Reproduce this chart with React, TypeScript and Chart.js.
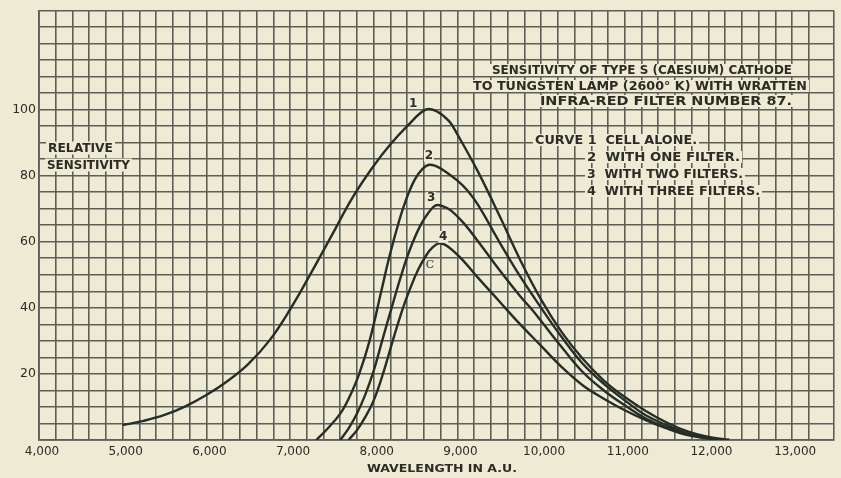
import { useEffect, useRef } from 'react';
import { Chart, registerables } from 'chart.js';

Chart.register(...registerables);

// ---------- data ----------
const curve1X = [5000, 5250, 5500, 5750, 6000, 6250, 6500, 6750, 7000, 7250, 7500, 7750, 8000, 8200, 8400, 8620, 8750, 8900, 9000, 9250, 9500, 9750, 10000, 10250, 10500, 10750, 11000, 11250, 11500, 11750, 12000, 12250];
const curve1Y = [4.5, 5.8, 7.6, 10.2, 13.6, 17.8, 23, 30, 39.5, 50.5, 62, 73.5, 83, 89.5, 95, 100, 99.5, 96.5, 92.5, 81, 68, 54.5, 42.5, 32.5, 24.5, 18, 13, 8.8, 5.3, 2.6, 0.9, 0.1];

const curve2X = [7313, 7450, 7600, 7700, 7823, 7950, 8090, 8185, 8305, 8390, 8490, 8580, 8660, 8750, 8840, 9000, 9120, 9250, 9500, 9750, 10000, 10250, 10500, 10750, 11000, 11250, 11500, 11750, 12000, 12150];
const curve2Y = [0, 3.5, 8, 12.5, 19.8, 30, 45, 55.3, 66.5, 73, 78.8, 82, 83.3, 82.8, 81.5, 78.5, 75.5, 71, 60, 49.5, 40, 31, 23, 17, 12, 7.5, 4.5, 2, 0.6, 0];

const curve3X = [7600, 7700, 7800, 7900, 8000, 8100, 8225, 8330, 8430, 8555, 8660, 8740, 8820, 8920, 9080, 9250, 9500, 9750, 9890, 10000, 10250, 10500, 10750, 11000, 11250, 11500, 11750, 12000, 12100];
const curve3Y = [0, 3.5, 8, 13.8, 21, 30, 41, 50, 57.5, 64.8, 69, 71, 70.8, 69.5, 65.5, 60, 51.5, 43.5, 39.5, 36, 28, 20.5, 15, 10.5, 6.5, 3.8, 1.7, 0.5, 0];

const curve4X = [7700, 7800, 7900, 8000, 8110, 8250, 8350, 8430, 8530, 8630, 8700, 8780, 8860, 8960, 9080, 9250, 9500, 9570, 9750, 10000, 10250, 10500, 10750, 11000, 11250, 11500, 11750, 12000, 12100];
const curve4Y = [0, 3, 7, 12, 20, 32, 40, 45.5, 51.5, 56, 58.2, 59.5, 59, 57, 54, 49, 42, 40, 35, 28.5, 22, 16.5, 12.5, 9, 6, 3.5, 1.5, 0.4, 0];

const xMin = 4000;
const xMax = 13500;
const yMin = 0;
const yMax = 130;
const xLabelValues = [4000, 5000, 6000, 7000, 8000, 9000, 10000, 11000, 12000, 13000];
const yLabelValues = [20, 40, 60, 80, 100];

// curve number labels, in data coordinates
const curveLabels = ['1', '2', '3', '4'];
const curveLabelX = [8470, 8660, 8685, 8830];
const curveLabelY = [102, 86, 73.3, 61.5];

const titleLines = [
  'SENSITIVITY OF TYPE S (CAESIUM) CATHODE',
  'TO TUNGSTEN LAMP (2600° K) WITH WRATTEN',
  'INFRA-RED FILTER NUMBER 87.',
];
const legendLines = [
  'CURVE 1  CELL ALONE.',
  '2  WITH ONE FILTER.',
  '3  WITH TWO FILTERS.',
  '4  WITH THREE FILTERS.',
];

const CREAM = '#efead3';
const INK = '#2a2c26';
const GRID = '#5a6059';
const LINE = '#262e28';

function fitText(
  ctx: CanvasRenderingContext2D,
  text: string,
  left: number,
  right: number,
  cy: number,
  font: string,
  bg: boolean,
  bgH = 12,
) {
  ctx.save();
  ctx.font = font;
  const w = ctx.measureText(text).width;
  const target = right - left;
  if (bg) {
    ctx.fillStyle = CREAM;
    ctx.fillRect(left - 2, cy - bgH / 2, target + 4, bgH);
  }
  ctx.translate(left, cy);
  ctx.scale(target / w, 1);
  ctx.fillStyle = INK;
  ctx.textBaseline = 'middle';
  ctx.textAlign = 'left';
  ctx.fillText(text, 0, 0.5);
  ctx.restore();
}

const annotations = {
  id: 'annotations',
  afterDatasetsDraw(chart: any) {
    const ctx: CanvasRenderingContext2D = chart.ctx;
    const xs = chart.scales.x;
    const ys = chart.scales.y;
    // title block
    const tFont = 'bold 12px "DejaVu Sans"';
    fitText(ctx, titleLines[0], 492, 792, 70, tFont, true);
    fitText(ctx, titleLines[1], 473, 807, 86, tFont, true);
    fitText(ctx, titleLines[2], 540, 792, 101, tFont, true);
    // legend block
    fitText(ctx, legendLines[0], 535, 697, 140, tFont, true);
    fitText(ctx, legendLines[1], 587, 740, 157, tFont, true);
    fitText(ctx, legendLines[2], 587, 743, 174, tFont, true);
    fitText(ctx, legendLines[3], 587, 760, 191, tFont, true);
    // y axis caption
    fitText(ctx, 'RELATIVE', 48, 113, 148, 'bold 12px "DejaVu Sans"', true, 13);
    fitText(ctx, 'SENSITIVITY', 47, 130, 165, 'bold 12px "DejaVu Sans"', true, 13);
    // x axis caption
    fitText(ctx, 'WAVELENGTH IN A.U.', 367, 517, 469, 'bold 11px "DejaVu Sans"', false);
    // curve numbers
    ctx.save();
    ctx.font = 'bold 12px "DejaVu Sans"';
    ctx.textAlign = 'center';
    ctx.textBaseline = 'middle';
    curveLabels.forEach((t, i) => {
      const px = xs.getPixelForValue(curveLabelX[i]);
      const py = ys.getPixelForValue(curveLabelY[i]);
      ctx.fillStyle = CREAM;
      ctx.fillRect(px - 5, py - 6, 10, 12);
      ctx.fillStyle = INK;
      ctx.fillText(t, px, py + 0.5);
    });
    const cx = xs.getPixelForValue(8673);
    const cy = ys.getPixelForValue(53);
    ctx.font = '11px "DejaVu Serif"';
    ctx.fillStyle = CREAM;
    ctx.fillRect(cx - 4, cy - 5, 8, 10);
    ctx.fillStyle = INK;
    ctx.fillText('C', cx, cy + 0.5);
    ctx.restore();
  },
};

function pts(xs: number[], ys: number[]) {
  return xs.map((x, i) => ({ x, y: ys[i] }));
}

export default function App() {
  const ref = useRef<HTMLCanvasElement | null>(null);

  useEffect(() => {
    document.body.style.margin = '0';
    document.body.style.background = CREAM;
    const canvas = ref.current;
    if (!canvas) return;
    const ds = (xs: number[], ys: number[]) => ({
      data: pts(xs, ys),
      borderColor: LINE,
      borderWidth: 2.4,
      pointRadius: 0,
      fill: false,
      tension: 0.4,
      capBezierPoints: true,
    });
    const chart = new Chart(canvas, {
      type: 'line',
      data: {
        datasets: [
          ds(curve1X, curve1Y),
          ds(curve2X, curve2Y),
          ds(curve3X, curve3Y),
          ds(curve4X, curve4Y),
        ],
      },
      options: {
        animation: false,
        responsive: false,
        devicePixelRatio: 1,
        layout: { padding: { left: 0, right: 7, top: 7, bottom: 0 } },
        plugins: {
          legend: { display: false },
          tooltip: { enabled: false },
          title: { display: false },
        },
        scales: {
          x: {
            type: 'linear',
            min: xMin,
            max: xMax,
            afterFit: (s: any) => {
              s.height = 38;
            },
            ticks: {
              stepSize: 200,
              autoSkip: false,
              maxRotation: 0,
              padding: 5,
              labelOffset: 3,
              color: INK,
              font: { family: 'DejaVu Sans', size: 12 },
              callback: (v: any) =>
                xLabelValues.includes(Number(v)) ? Number(v).toLocaleString('en-US') : '',
            },
            grid: { color: GRID, lineWidth: 1.6, drawTicks: false },
            border: { color: GRID, width: 1.8 },
          },
          y: {
            type: 'linear',
            min: yMin,
            max: yMax,
            afterFit: (s: any) => {
              s.width = 39;
            },
            ticks: {
              stepSize: 5,
              autoSkip: false,
              padding: 3,
              color: INK,
              font: { family: 'DejaVu Sans', size: 12.5 },
              callback: (v: any) => (yLabelValues.includes(Number(v)) ? String(v) : ''),
            },
            grid: { color: GRID, lineWidth: 1.6, drawTicks: false },
            border: { color: GRID, width: 1.8 },
          },
        },
      },
      plugins: [annotations],
    });
    return () => chart.destroy();
  }, []);

  return (
    <div style={{ width: 841, height: 478, background: CREAM }}>
      <canvas ref={ref} width={841} height={478} style={{ display: 'block' }} />
    </div>
  );
}
